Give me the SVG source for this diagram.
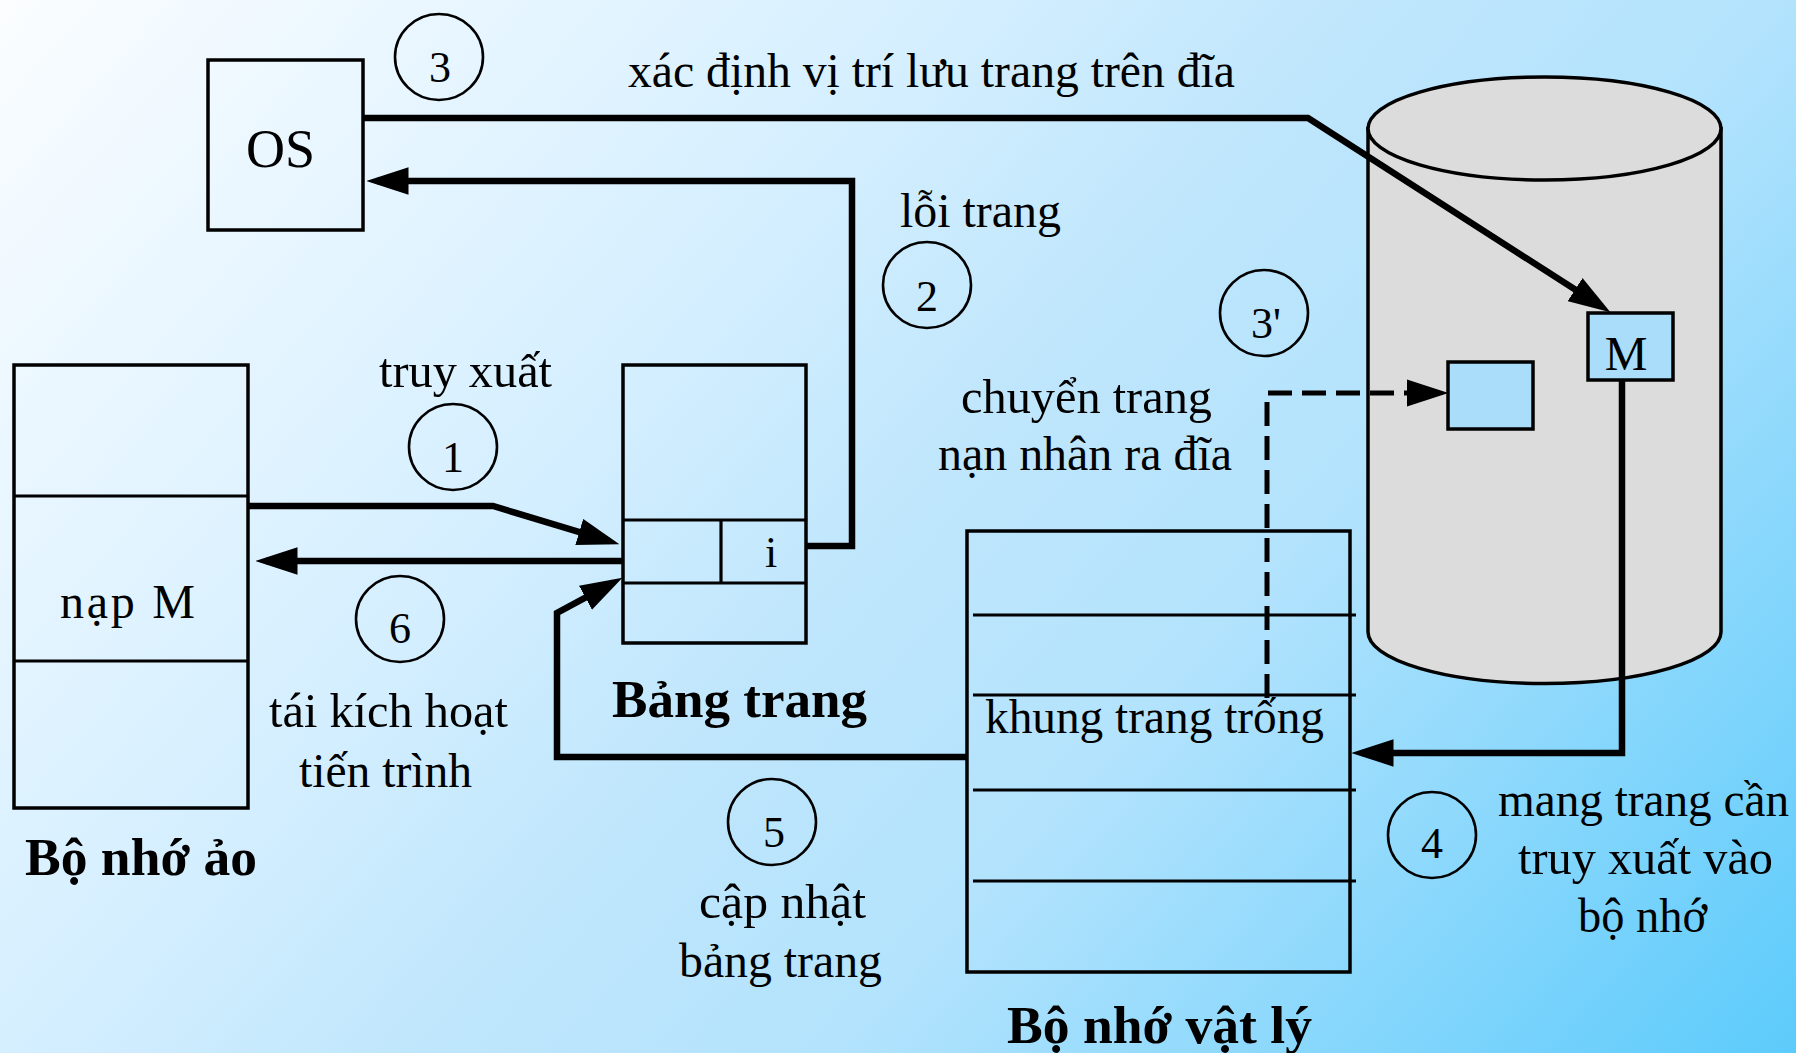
<svg xmlns="http://www.w3.org/2000/svg" width="1796" height="1053" viewBox="0 0 1796 1053">
<defs>
<linearGradient id="bg" gradientUnits="userSpaceOnUse" x1="0" y1="0" x2="1516" y2="1364">
<stop offset="0" stop-color="#fbfdff"/>
<stop offset="0.345" stop-color="#d5efff"/>
<stop offset="0.5" stop-color="#bfe6fc"/>
<stop offset="0.65" stop-color="#b3e3fd"/>
<stop offset="1" stop-color="#5ccbfb"/>
</linearGradient>
<marker id="ah" markerUnits="userSpaceOnUse" markerWidth="42" markerHeight="28" viewBox="0 0 40 26" refX="30" refY="13" orient="auto">
<path d="M0,0 L40,13 L0,26 Z" fill="#000" stroke="none"/>
</marker>
<style>
.box{fill:none;stroke:#000;stroke-width:3.5}
.thin{fill:none;stroke:#000;stroke-width:3.2}
.circ{fill:none;stroke:#000;stroke-width:2.6}
.conn{fill:none;stroke:#000;stroke-width:6.5;marker-end:url(#ah)}
.dash{fill:none;stroke:#000;stroke-width:5;stroke-dasharray:24 10;marker-end:url(#ah)}
.t{font-family:"Liberation Serif","Times New Roman",serif;font-size:48px;fill:#000}
.b{font-family:"Liberation Serif","Times New Roman",serif;font-size:53px;font-weight:bold;fill:#000}
.d{font-family:"Liberation Serif","Times New Roman",serif;font-size:44px;fill:#000;text-anchor:middle}
.lb{fill:#a9ddfa;stroke:#000;stroke-width:3.5}
</style>
</defs>
<rect x="0" y="0" width="1796" height="1053" fill="url(#bg)"/>

<g id="disk">
<path d="M1368,128.5 L1368,632 A176.5,51.5 0 0 0 1721,632 L1721,128.5 Z" fill="#dcdcdc" stroke="#000" stroke-width="3.5"/>
<ellipse cx="1544.5" cy="128.5" rx="176.5" ry="51.5" fill="#dcdcdc" stroke="#000" stroke-width="3.5"/>
<rect class="lb" x="1448" y="362" width="85" height="67"/>
</g>

<g id="page-m">
<rect class="lb" x="1588" y="313" width="85" height="67"/>
<text class="t" x="1626" y="370" text-anchor="middle">M</text>
</g>

<g id="os">
<rect class="box" x="208" y="60" width="155" height="170"/>
<text class="t" x="246" y="167" style="font-size:54px" textLength="69" lengthAdjust="spacingAndGlyphs">OS</text>
</g>

<g id="virtual-memory">
<rect class="box" x="14" y="365" width="234" height="443"/>
<line class="thin" x1="14" y1="496" x2="248" y2="496"/>
<line class="thin" x1="14" y1="661" x2="248" y2="661"/>
<text class="t" x="60" y="618" textLength="135">nạp M</text>
<text class="b" x="25" y="875" textLength="232" lengthAdjust="spacingAndGlyphs">Bộ nhớ ảo</text>
</g>

<g id="page-table">
<rect class="box" x="623" y="365" width="183" height="278"/>
<line class="thin" x1="623" y1="520" x2="806" y2="520"/>
<line class="thin" x1="623" y1="583" x2="806" y2="583"/>
<line class="thin" x1="721" y1="520" x2="721" y2="583"/>
<text class="t" x="771" y="567" text-anchor="middle" style="font-size:44px">i</text>
<text class="b" x="612" y="717" textLength="255" lengthAdjust="spacingAndGlyphs">Bảng trang</text>
</g>

<g id="physical-memory">
<rect class="box" x="967" y="531" width="383" height="441"/>
<line class="thin" x1="973" y1="615" x2="1356" y2="615"/>
<line class="thin" x1="973" y1="695" x2="1356" y2="695"/>
<line class="thin" x1="973" y1="790" x2="1356" y2="790"/>
<line class="thin" x1="973" y1="881" x2="1356" y2="881"/>
<text class="t" x="985" y="733" textLength="339" lengthAdjust="spacingAndGlyphs">khung trang trống</text>
<text class="b" x="1007" y="1043" textLength="305" lengthAdjust="spacingAndGlyphs">Bộ nhớ vật lý</text>
</g>

<g id="connectors">
<path class="conn" d="M363,118 L1308,118 L1601.6,306.6"/>
<path class="conn" d="M807,546 L852,546 L852,181 L377,181"/>
<path class="conn" d="M247,506 L493,506 L609.4,541.1"/>
<path class="conn" d="M623,561 L266,561"/>
<path class="conn" d="M967,757 L557,757 L557,613 L613.2,582.7"/>
<path class="conn" d="M1622,380 L1622,753 L1362,753"/>
<path class="dash" d="M1267,698 L1267,393 L1438,393"/>
</g>

<g id="step-1">
<ellipse class="circ" cx="453" cy="447" rx="44" ry="43"/>
<text class="d" x="453" y="472">1</text>
<text class="t" x="379" y="387" textLength="173" lengthAdjust="spacingAndGlyphs">truy xuất</text>
</g>

<g id="step-2">
<ellipse class="circ" cx="927" cy="285" rx="44" ry="43"/>
<text class="d" x="927" y="311">2</text>
<text class="t" x="900" y="227" textLength="161" lengthAdjust="spacingAndGlyphs">lỗi trang</text>
</g>

<g id="step-3">
<ellipse class="circ" cx="439" cy="57" rx="44" ry="43"/>
<text class="d" x="440" y="82">3</text>
<text class="t" x="628" y="87" textLength="607" lengthAdjust="spacingAndGlyphs">xác định vị trí lưu trang trên đĩa</text>
</g>

<g id="step-3b">
<ellipse class="circ" cx="1264" cy="313" rx="44" ry="43"/>
<text class="d" x="1266" y="338">3'</text>
<text class="t" x="961" y="413" textLength="251" lengthAdjust="spacingAndGlyphs">chuyển trang</text>
<text class="t" x="938" y="470" textLength="294" lengthAdjust="spacingAndGlyphs">nạn nhân ra đĩa</text>
</g>

<g id="step-4">
<ellipse class="circ" cx="1432" cy="835" rx="44" ry="43"/>
<text class="d" x="1432" y="858">4</text>
<text class="t" x="1498" y="816" textLength="291" lengthAdjust="spacingAndGlyphs">mang trang cần</text>
<text class="t" x="1518" y="874" textLength="255" lengthAdjust="spacingAndGlyphs">truy xuất vào</text>
<text class="t" x="1578" y="932" textLength="129" lengthAdjust="spacingAndGlyphs">bộ nhớ</text>
</g>

<g id="step-5">
<ellipse class="circ" cx="772" cy="822" rx="44" ry="43"/>
<text class="d" x="774" y="847">5</text>
<text class="t" x="699" y="918" textLength="167" lengthAdjust="spacingAndGlyphs">cập nhật</text>
<text class="t" x="679" y="977" textLength="203" lengthAdjust="spacingAndGlyphs">bảng trang</text>
</g>

<g id="step-6">
<ellipse class="circ" cx="400" cy="619" rx="44" ry="43"/>
<text class="d" x="400" y="643">6</text>
<text class="t" x="269" y="727" textLength="239" lengthAdjust="spacingAndGlyphs">tái kích hoạt</text>
<text class="t" x="299" y="787" textLength="173" lengthAdjust="spacingAndGlyphs">tiến trình</text>
</g>
</svg>
